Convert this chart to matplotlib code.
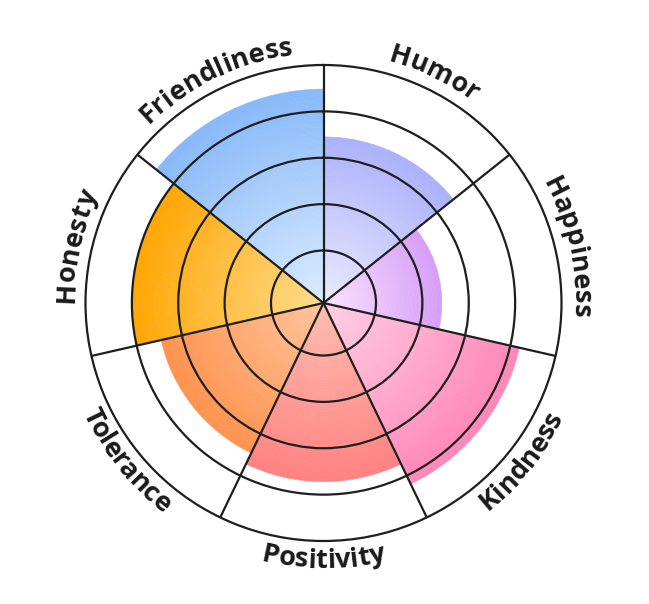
"""
Polar bar chart of personality traits with radial gradient wedges and curved labels.
"""

import numpy as np
import matplotlib
matplotlib.use('Agg')
from matplotlib import pyplot as plt
from matplotlib.colors import to_rgb
from matplotlib.font_manager import FontProperties
from matplotlib.textpath import TextToPath

# Data (clockwise from the top)
traits = ['Humor', 'Happiness', 'Kindness', 'Positivity', 'Tolerance', 'Honesty', 'Friendliness']
scores = [3.45, 2.42, 4.2, 3.72, 3.46, 4.0, 4.48]
inner_colors = ['#ebeaff', '#f9e4ff', '#ffd0e4', '#ffbcb0', '#ffc59c', '#ffdc8c', '#dbecff']
outer_colors = ['#aab0fa', '#d69cf6', '#ff85b8', '#ff8080', '#ff914d', '#ffa500', '#86b8f8']

W, H, DPI = 649, 604, 100
CX, CY = 323.5, 301.0  # chart centre in pixels (from bottom left)
R = 238.0  # outer radius in pixels
R0 = 0.132  # small offset so the first ring is a bit larger


def curved_label(fig, text, centre_deg, radius, flip, prop):
    """
    Draw text letter by letter along a circle.

    :param centre_deg: Compass angle of the middle of the text.
    :param radius: Baseline radius in pixels.
    :param flip: Read counterclockwise with letter tops facing the centre.
    """
    t2p = TextToPath()
    scale = DPI / 72.0

    def width(s):
        if not s:
            return 0.0
        return t2p.get_text_width_height_descent(s, prop, ismath=False)[0] * scale

    total = width(text)
    centre = np.radians(centre_deg)
    for i, ch in enumerate(text):
        s = (width(text[:i]) + width(text[:i + 1])) / 2 - total / 2
        if flip:
            phi = centre - s / radius
            rot = 180 - np.degrees(phi)
        else:
            phi = centre + s / radius
            rot = -np.degrees(phi)
        x = CX + radius * np.sin(phi)
        y = CY + radius * np.cos(phi)
        fig.text(x / W, y / H, ch, fontproperties=prop, color='#1a1a1a',
                 ha='center', va='baseline', rotation=rot, rotation_mode='anchor')


def main():
    fig = plt.figure(figsize=(W / DPI, H / DPI), dpi=DPI)
    ax = fig.add_axes([(CX - R) / W, (CY - R) / H, 2 * R / W, 2 * R / H], projection='polar')
    ax.set_theta_zero_location('N')
    ax.set_theta_direction(-1)
    ax.set_ylim(-R0, 5)

    n = len(traits)
    step = 2 * np.pi / n
    thetas = (np.arange(n) + 0.5) * step

    # Gradient wedges built from thin stacked bars
    segs = 90
    for theta, value, c0, c1 in zip(thetas, scores, inner_colors, outer_colors):
        c0, c1 = np.array(to_rgb(c0)), np.array(to_rgb(c1))
        edges = np.linspace(-R0, value, segs + 1)
        for k in range(segs):
            t = (edges[k] + R0) / (value + R0)
            col = c0 + (c1 - c0) * t
            ax.bar(theta, edges[k + 1] - edges[k], width=step, bottom=edges[k],
                   color=col, edgecolor=col, linewidth=0.4, zorder=1)

    # Grid
    ax.set_xticks(np.arange(n) * step)
    ax.set_yticks([1, 2, 3, 4])
    ax.set_xticklabels([])
    ax.set_yticklabels([])
    ax.tick_params(length=0)
    ax.grid(True, color='#1e1e1e', linewidth=1.6)
    ax.set_axisbelow(False)
    ax.spines['polar'].set_color('#1e1e1e')
    ax.spines['polar'].set_linewidth(1.6)

    # Curved labels
    prop = FontProperties(family='Open Sans', weight='bold', size=19.5)
    for theta, name in zip(thetas, traits):
        deg = np.degrees(theta)
        flip = 90 < deg < 270
        curved_label(fig, name, deg, 265 if flip else 250, flip, prop)

    fig.savefig('out.png', dpi=DPI, facecolor='white')


# Only if this file is run directly
if __name__ == '__main__':
    main()
